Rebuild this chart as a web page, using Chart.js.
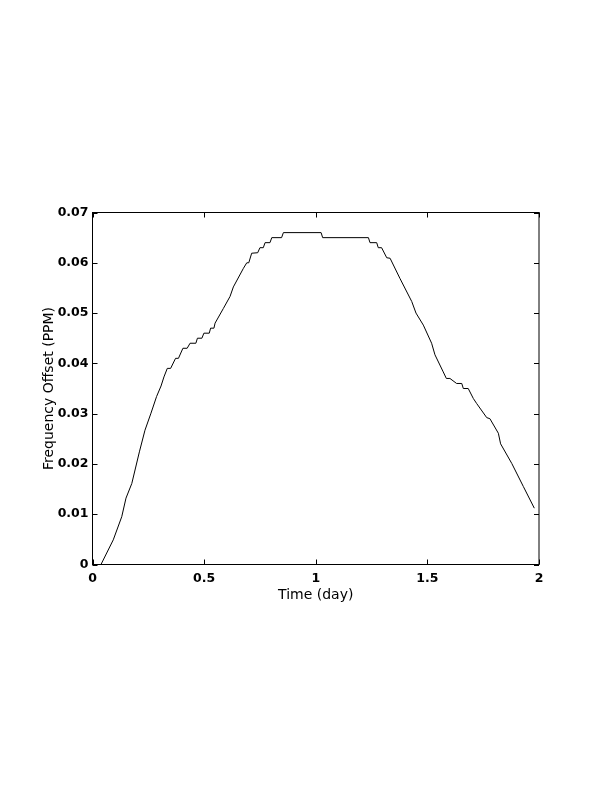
<!DOCTYPE html>
<html>
<head>
<meta charset="utf-8">
<script src="https://cdn.jsdelivr.net/npm/chart.js@4.4.1/dist/chart.umd.min.js"></script>
<style>
  html, body { margin: 0; padding: 0; background: #fff; }
  canvas { display: block; }
</style>
</head>
<body>
<canvas id="c" width="612" height="792"></canvas>
<script>
// ---- Data ----
const timeDay = [0.038,0.093,0.131,0.150,0.176,0.210,0.235,0.262,0.287,0.307,0.320,0.335,0.350,0.372,0.385,0.405,0.424,0.437,0.463,0.470,0.490,0.499,0.523,0.529,0.544,0.549,0.586,0.616,0.631,0.676,0.691,0.700,0.713,0.740,0.750,0.765,0.773,0.795,0.803,0.847,0.855,1.024,1.031,1.236,1.243,1.273,1.280,1.295,1.318,1.333,1.377,1.430,1.449,1.482,1.519,1.534,1.571,1.585,1.601,1.631,1.654,1.661,1.683,1.706,1.721,1.766,1.780,1.818,1.828,1.878,1.930,1.979];
const freqOffset = [0,0.0049,0.0095,0.0132,0.0161,0.0224,0.0267,0.0301,0.0334,0.0355,0.0373,0.039,0.039,0.041,0.041,0.043,0.043,0.044,0.044,0.045,0.045,0.046,0.046,0.047,0.047,0.048,0.0509,0.0533,0.0552,0.0589,0.060,0.060,0.0619,0.062,0.063,0.063,0.064,0.064,0.065,0.065,0.066,0.066,0.065,0.065,0.064,0.064,0.063,0.063,0.061,0.0609,0.0569,0.0523,0.050,0.0476,0.044,0.0417,0.0383,0.037,0.037,0.036,0.036,0.035,0.035,0.033,0.032,0.0292,0.029,0.0261,0.024,0.0201,0.0155,0.0112];
const xTickValues = [0, 0.5, 1, 1.5, 2];
const xTickLabels = ['0', '0.5', '1', '1.5', '2'];
const yTickValues = [0, 0.01, 0.02, 0.03, 0.04, 0.05, 0.06, 0.07];
const yTickLabels = ['0', '0.01', '0.02', '0.03', '0.04', '0.05', '0.06', '0.07'];
const xTitle = 'Time (day)';
const yTitle = 'Frequency Offset (PPM)';

const points = timeDay.map((t, i) => ({ x: t, y: freqOffset[i] }));

const boxPlugin = {
  id: 'box',
  afterDraw(chart) {
    const { ctx, chartArea: a, scales } = chart;
    ctx.save();
    ctx.strokeStyle = '#000';
    ctx.lineWidth = 1;
    ctx.strokeRect(a.left, a.top, a.right - a.left, a.bottom - a.top);
    const tl = 5;
    ctx.beginPath();
    xTickValues.forEach(v => {
      const px = Math.round(scales.x.getPixelForValue(v)) + 0.5;
      ctx.moveTo(px, a.bottom); ctx.lineTo(px, a.bottom - tl);
      ctx.moveTo(px, a.top); ctx.lineTo(px, a.top + tl);
    });
    yTickValues.forEach(v => {
      const py = Math.round(scales.y.getPixelForValue(v)) + 0.5;
      ctx.moveTo(a.left, py); ctx.lineTo(a.left + tl, py);
      ctx.moveTo(a.right, py); ctx.lineTo(a.right - tl, py);
    });
    ctx.stroke();
    ctx.restore();
  }
};

const tickFont = { family: 'DejaVu Sans', size: 12.5, weight: 'bold' };
const titleFont = { family: 'DejaVu Sans', size: 14, weight: 'normal' };

new Chart(document.getElementById('c'), {
  type: 'scatter',
  data: {
    datasets: [{
      data: points,
      showLine: true,
      borderColor: '#000',
      borderWidth: 1,
      pointRadius: 0,
      tension: 0,
      fill: false
    }]
  },
  options: {
    responsive: false,
    animation: false,
    devicePixelRatio: 1,
    layout: { padding: { left: 37, right: 73, top: 212.5, bottom: 187.5 } },
    plugins: { legend: { display: false }, tooltip: { enabled: false } },
    scales: {
      x: {
        type: 'linear', min: 0, max: 2,
        afterBuildTicks: s => { s.ticks = xTickValues.map(v => ({ value: v })); },
        afterFit: s => { s.height = 40; },
        grid: { display: false, drawTicks: false },
        border: { display: false },
        ticks: {
          color: '#000', font: tickFont, padding: 7, maxRotation: 0,
          callback: v => xTickLabels[xTickValues.indexOf(v)]
        },
        title: { display: true, text: xTitle, color: '#000', font: titleFont, padding: { top: 0, bottom: 0.5 } }
      },
      y: {
        type: 'linear', min: 0, max: 0.07,
        afterBuildTicks: s => { s.ticks = yTickValues.map(v => ({ value: v })); },
        afterFit: s => { s.width = 92.5 - 37; },
        grid: { display: false, drawTicks: false },
        border: { display: false },
        ticks: {
          color: '#000', font: tickFont, padding: 4,
          callback: v => yTickLabels[yTickValues.indexOf(v)]
        },
        title: { display: true, text: yTitle, color: '#000', font: titleFont, padding: { top: 4, bottom: 0 } }
      }
    }
  },
  plugins: [boxPlugin]
});
</script>
</body>
</html>
